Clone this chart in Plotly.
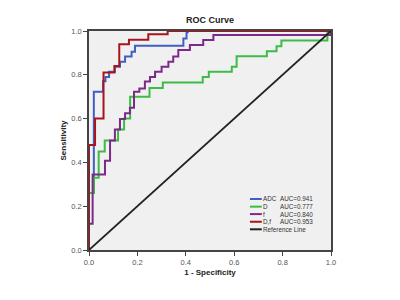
import plotly.graph_objects as go

# ROC curve step vertices (1 - specificity, sensitivity)
adc_fpr = [0, 0, 0.02, 0.058, 0.068, 0.083, 0.107, 0.128, 0.149, 0.176, 0.19, 0.39, 0.403, 0.408, 1.0]
adc_tpr = [0, 0.26, 0.723, 0.77, 0.79, 0.814, 0.837, 0.86, 0.883, 0.905, 0.933, 0.966, 0.994, 1.0, 1.0]

d_fpr = [0, 0, 0.02, 0.04, 0.065, 0.12, 0.145, 0.17, 0.25, 0.305, 0.47, 0.495, 0.59, 0.61, 0.735, 0.775, 0.795, 0.985, 1.0]
d_tpr = [0, 0.26, 0.33, 0.45, 0.50, 0.55, 0.60, 0.70, 0.74, 0.765, 0.79, 0.814, 0.837, 0.885, 0.907, 0.93, 0.957, 1.0, 1.0]

f_fpr = [0, 0, 0.015, 0.066, 0.087, 0.107, 0.128, 0.149, 0.169, 0.186, 0.208, 0.231, 0.252, 0.273, 0.30, 0.328, 0.348, 0.369, 0.417, 0.472, 0.514, 1.0, 1.0]
f_tpr = [0, 0.12, 0.345, 0.408, 0.50, 0.55, 0.598, 0.624, 0.65, 0.723, 0.738, 0.769, 0.79, 0.814, 0.837, 0.86, 0.883, 0.913, 0.936, 0.959, 0.982, 0.982, 1.0]

df_fpr = [0, 0, 0.025, 0.06, 0.105, 0.125, 0.165, 0.245, 0.325, 1.0]
df_tpr = [0, 0.48, 0.60, 0.81, 0.84, 0.94, 0.96, 0.985, 1.0, 1.0]

ref_x = [0, 1]
ref_y = [0, 1]

series_names = ["ADC", "D", "f", "D,f"]
auc_labels = ["AUC=0.941", "AUC=0.777", "AUC=0.840", "AUC=0.953"]
ref_name = "Reference Line"
colors = ["#3f5fc4", "#3cbc46", "#7a2a88", "#a8141c", "#222222"]

tick_vals = [0, 0.2, 0.4, 0.6, 0.8, 1.0]
tick_text = ["0.0", "0.2", "0.4", "0.6", "0.8", "1.0"]

fig = go.Figure()
series = [(adc_fpr, adc_tpr), (d_fpr, d_tpr), (f_fpr, f_tpr), (df_fpr, df_tpr)]
for (xs, ys), nm, auc, c in zip(series, series_names, auc_labels, colors[:4]):
    fig.add_trace(go.Scatter(x=xs, y=ys, mode="lines", name=nm + " " + auc,
                             line=dict(color=c, width=2, shape="hv")))
fig.add_trace(go.Scatter(x=ref_x, y=ref_y, mode="lines", name=ref_name,
                         line=dict(color=colors[4], width=1.8)))

# manual compact legend (SPSS style) inside the plot area, bottom right
row_y = [0.233, 0.198, 0.164, 0.129, 0.0945]
labels = series_names + [ref_name]
for i, (lab, c) in enumerate(zip(labels, colors)):
    fig.add_shape(type="line", xref="paper", yref="paper",
                  x0=0.665, x1=0.714, y0=row_y[i], y1=row_y[i],
                  line=dict(color=c, width=2))
    fig.add_annotation(xref="paper", yref="paper", x=0.712, y=row_y[i],
                       text=lab, showarrow=False, xanchor="left", yanchor="middle",
                       font=dict(size=6.3, color="#333"))
    if i < 4:
        fig.add_annotation(xref="paper", yref="paper", x=0.782, y=row_y[i],
                           text=auc_labels[i], showarrow=False, xanchor="left",
                           yanchor="middle", font=dict(size=6.3, color="#333"))

axis_common = dict(range=[0, 1], tickvals=tick_vals, ticktext=tick_text,
                   ticks="outside", ticklen=4, tickcolor="#444", tickwidth=1,
                   showline=True, linecolor="#444", linewidth=1.5, mirror=True,
                   showgrid=False, zeroline=False, automargin=False,
                   tickfont=dict(size=7.5, color="#555"))

# note: page body has an 8px default margin, so margins are offset by -8px
fig.update_layout(
    width=400, height=300,
    margin=dict(l=81, r=77, t=23, b=58),
    paper_bgcolor="white", plot_bgcolor="#f0f0f0",
    font=dict(family="Arial, Liberation Sans, sans-serif", color="#222"),
    title=dict(text="<b>ROC Curve</b>", x=0.505, xanchor="center", xref="container",
               y=0.96, yanchor="middle", yref="container",
               font=dict(size=9, color="#222")),
    xaxis=dict(title=dict(text="<b>1 - Specificity</b>", font=dict(size=8), standoff=4), **axis_common),
    yaxis=dict(title=dict(text="<b>Sensitivity</b>", font=dict(size=8), standoff=4), **axis_common),
    showlegend=False,
)

fig.write_html("out.html")
